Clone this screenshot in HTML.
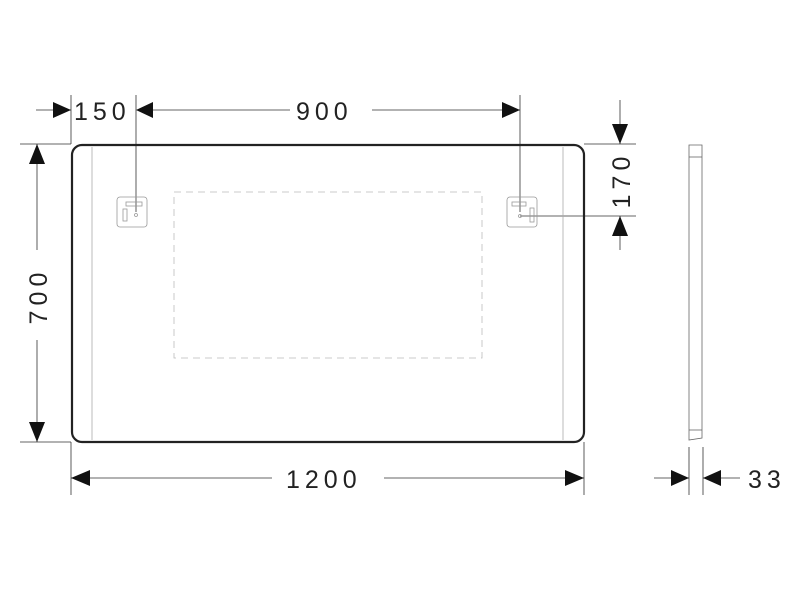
<!DOCTYPE html>
<html><head><style>body{margin:0;background:#fff}svg{display:block}</style></head><body>
<svg width="800" height="600" viewBox="0 0 800 600" xmlns="http://www.w3.org/2000/svg" font-family="Liberation Sans, sans-serif">
<g stroke="#333" fill="none" stroke-width="0.8">
<!-- extension lines -->
<line x1="71" y1="95" x2="71" y2="144"/>
<line x1="136" y1="95" x2="136" y2="212"/>
<line x1="520" y1="95" x2="520" y2="212"/>
<line x1="20" y1="144" x2="71" y2="144"/>
<line x1="20" y1="442" x2="71" y2="442"/>
<line x1="71" y1="442" x2="71" y2="495"/>
<line x1="584" y1="442" x2="584" y2="495"/>
<line x1="584" y1="144" x2="636" y2="144"/>
<line x1="520" y1="216" x2="636" y2="216"/>
<line x1="689" y1="447" x2="689" y2="495"/>
<line x1="703" y1="447" x2="703" y2="495"/>
<!-- dim lines -->
<line x1="36" y1="110" x2="71" y2="110"/>
<line x1="153" y1="110" x2="290" y2="110"/>
<line x1="372" y1="110" x2="520" y2="110"/>
<line x1="37" y1="144" x2="37" y2="250"/>
<line x1="37" y1="340" x2="37" y2="442"/>
<line x1="71" y1="478" x2="272" y2="478"/>
<line x1="384" y1="478" x2="584" y2="478"/>
<line x1="620" y1="100" x2="620" y2="144"/>
<line x1="620" y1="216" x2="620" y2="250"/>
<line x1="654" y1="478" x2="689" y2="478"/>
<line x1="703" y1="478" x2="740" y2="478"/>
<!-- inner lines -->
<line x1="92" y1="147" x2="92" y2="440" stroke="#aaa"/>
<line x1="563" y1="147" x2="563" y2="440" stroke="#aaa"/>
<rect x="174" y="192" width="308" height="166" stroke="#bbb" stroke-dasharray="7,5"/>
<!-- brackets -->
<rect x="117" y="197" width="30" height="30" rx="3" stroke="#999"/>
<rect x="507" y="197" width="30" height="30" rx="3" stroke="#999"/>
<rect x="126" y="202" width="16" height="4" stroke="#999"/>
<rect x="123" y="209" width="4" height="12" stroke="#999"/>
<circle cx="136" cy="215" r="1.5" stroke="#999"/>
<rect x="512" y="202" width="14" height="4" stroke="#999"/>
<rect x="530" y="208" width="4" height="14" stroke="#999"/>
<circle cx="520" cy="216" r="1.5" stroke="#999"/>
<!-- side view -->
<path d="M689 145 L702 145 L702 438 L689 440 Z" stroke="#666"/>
<line x1="689" y1="157" x2="702" y2="157" stroke="#666"/>
<line x1="689" y1="430" x2="702" y2="430" stroke="#666"/>
</g>
<rect x="72" y="145" width="512" height="297" rx="10" fill="none" stroke="#222" stroke-width="2.2"/>
<g fill="#111">
<polygon points="53,102 71,110 53,118"/>
<polygon points="153,102 136,110 153,118"/>
<polygon points="502,102 520,110 502,118"/>
<polygon points="29,164 37,144 45,164"/>
<polygon points="29,422 37,442 45,422"/>
<polygon points="90,470 71,478 90,486"/>
<polygon points="565,470 584,478 565,486"/>
<polygon points="612,124 620,144 628,124"/>
<polygon points="612,236 620,216 628,236"/>
<polygon points="671,470 689,478 671,486"/>
<polygon points="721,470 703,478 721,486"/>
</g>
<g fill="#222" font-size="25" letter-spacing="5">
<text x="74" y="120">150</text>
<text x="296" y="120">900</text>
<text x="286" y="488">1200</text>
<text x="748" y="488">33</text>
<text transform="translate(47,296) rotate(-90)" text-anchor="middle">700</text>
<text transform="translate(630,180) rotate(-90)" text-anchor="middle">170</text>
</g>
</svg>
</body></html>
